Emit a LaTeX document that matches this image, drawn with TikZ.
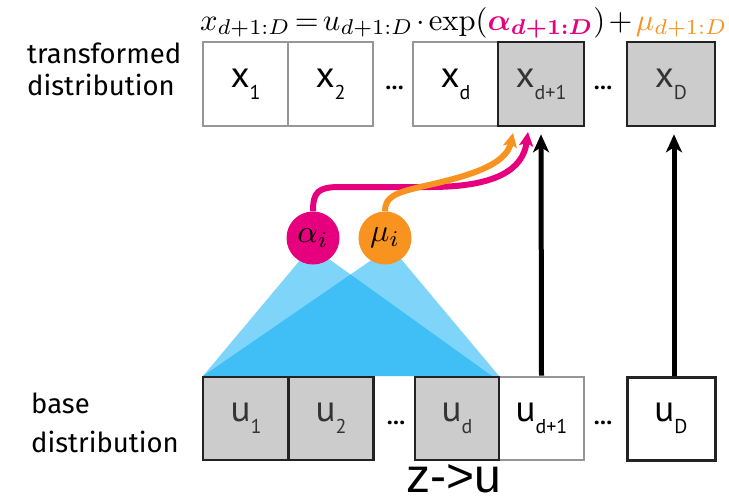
\documentclass[tikz,border=0pt]{standalone}
\usepackage[no-math]{fontspec}
\setmainfont{PT Sans}
\newfontfamily\labelfont{Fira Sans}
\newfontfamily\zfont{Liberation Sans}
\usepackage{amsmath,amssymb,graphicx}
\usetikzlibrary{arrows.meta}
\definecolor{mag}{RGB}{230,0,126}
\definecolor{org}{RGB}{247,147,30}
\definecolor{tri}{RGB}{0,171,245}
\definecolor{cellgray}{RGB}{204,204,204}
\definecolor{lightedge}{RGB}{150,150,150}
\definecolor{darkedge}{RGB}{35,35,35}
\newcommand\celltxt[2]{{\fontsize{37}{37}\selectfont #1}\raisebox{-12pt}{\fontsize{20}{20}\selectfont #2}}
\begin{document}
\begin{tikzpicture}[x=1pt,y=-1pt,
  cell/.style={rectangle, draw, inner sep=0pt, line width=2.6pt, minimum height=84pt},
  graycell/.style={cell, fill=cellgray, draw=darkedge, text=black!80},
  whitecell/.style={cell, fill=white, draw=lightedge, text=black},
  sidelabel/.style={anchor=base west, inner sep=0pt, font=\labelfont\fontsize{27.5}{27.5}\selectfont},
  dotstxt/.style={anchor=base, inner sep=0pt, font=\fontsize{24}{24}\selectfont\bfseries},
  param/.style={circle, inner sep=0pt, minimum size=53pt},
  tritop/.style={fill=tri, fill opacity=0.5, draw=none},
  flow/.style={line width=5pt, -{Stealth[length=18pt,width=16pt,inset=5pt]}, shorten >=7pt},
  curvearrow/.style={line width=6pt, -{Stealth[length=14pt,width=14pt,inset=3pt]}}
]
\fill[white] (0,0) rectangle (729,501);
\useasboundingbox (0,0) rectangle (729,501);

% formula
\node[anchor=base west, inner sep=0pt] (formula) at (200,30)
  {\resizebox{527pt}{!}{$\thickmuskip=2.5mu\medmuskip=2mu x_{d+1:D} = u_{d+1:D}\cdot\exp(\textcolor{mag}{\boldsymbol{\alpha}_{\boldsymbol{d+1:D}}}) + \textcolor{org}{\mu_{d+1:D}}$}};

% side labels
\node[sidelabel] (tl1) at (27,63) {transformed};
\node[sidelabel] (tl2) at (27,95) {distribution};
\node[sidelabel] (bl1) at (31,413) {base};
\node[sidelabel] (bl2) at (31,452) {distribution};

% triangles
\fill[tritop] (203,376) -- (301,259) -- (329,259) -- (492,376) -- cycle;
\fill[tritop] (203,376) -- (373,259) -- (401,259) -- (499,376) -- cycle;

% parameter circles
\node[param, fill=mag] (al) at (313,238) {\scalebox{3.2}{$\alpha_i$}};
\node[param, fill=org] (mu) at (385,238) {\scalebox{3.2}{$\mu_i$}};

% top row
\node[whitecell, minimum width=85pt] (x1) at (245.5,84) {\celltxt{x}{1}};
\node[whitecell, minimum width=85pt] (x2) at (330.5,84) {\celltxt{x}{2}};
\node[whitecell, minimum width=85pt] (xd) at (455.5,84) {\celltxt{x}{d}};
\node[graycell, minimum width=86pt] (xd1) at (541,84) {\celltxt{x}{d+1}};
\node[graycell, minimum width=88pt] (xD) at (671,84) {\celltxt{x}{D}};
\node[dotstxt] (dt1) at (394.5,89) {...};
\node[dotstxt] (dt2) at (603,89) {...};

% bottom row
\node[graycell, minimum width=86pt, minimum height=83pt] (u1) at (246,418.5) {\celltxt{u}{1}};
\node[graycell, minimum width=85pt, minimum height=83pt] (u2) at (331,418.5) {\celltxt{u}{2}};
\node[whitecell, minimum width=85pt, minimum height=83pt] (ud1) at (541.5,418.5) {\celltxt{u}{d+1}};
\node[graycell, minimum width=84pt, minimum height=83pt] (ud) at (457,418.5) {\celltxt{u}{d}};
\node[whitecell, draw=darkedge, line width=3pt, minimum width=88pt, minimum height=83pt] (uD) at (671,418.5) {\celltxt{u}{D}};
\node[dotstxt] (db1) at (396,424) {...};
\node[dotstxt] (db2) at (603,424) {...};

% arrows
\draw[flow] (ud1.north) -- (xd1.south);
\draw[flow] ([xshift=3pt]uD.north) -- ([xshift=3pt]xD.south);

\draw[curvearrow, mag] (al.north) .. controls (313,192) and (318,187) .. (340,187)
  -- (430,187) .. controls (495,187) and (523,170) .. (528,132);
\draw[curvearrow, org] (mu.north) .. controls (385,197) and (395,193) .. (420,187)
  .. controls (470,176) and (506,165) .. (513,133);

% caption
\node[anchor=base, inner sep=0pt, font=\zfont\fontsize{48}{48}\selectfont] (cap) at (454,492) {z->u};
\end{tikzpicture}
\end{document}
